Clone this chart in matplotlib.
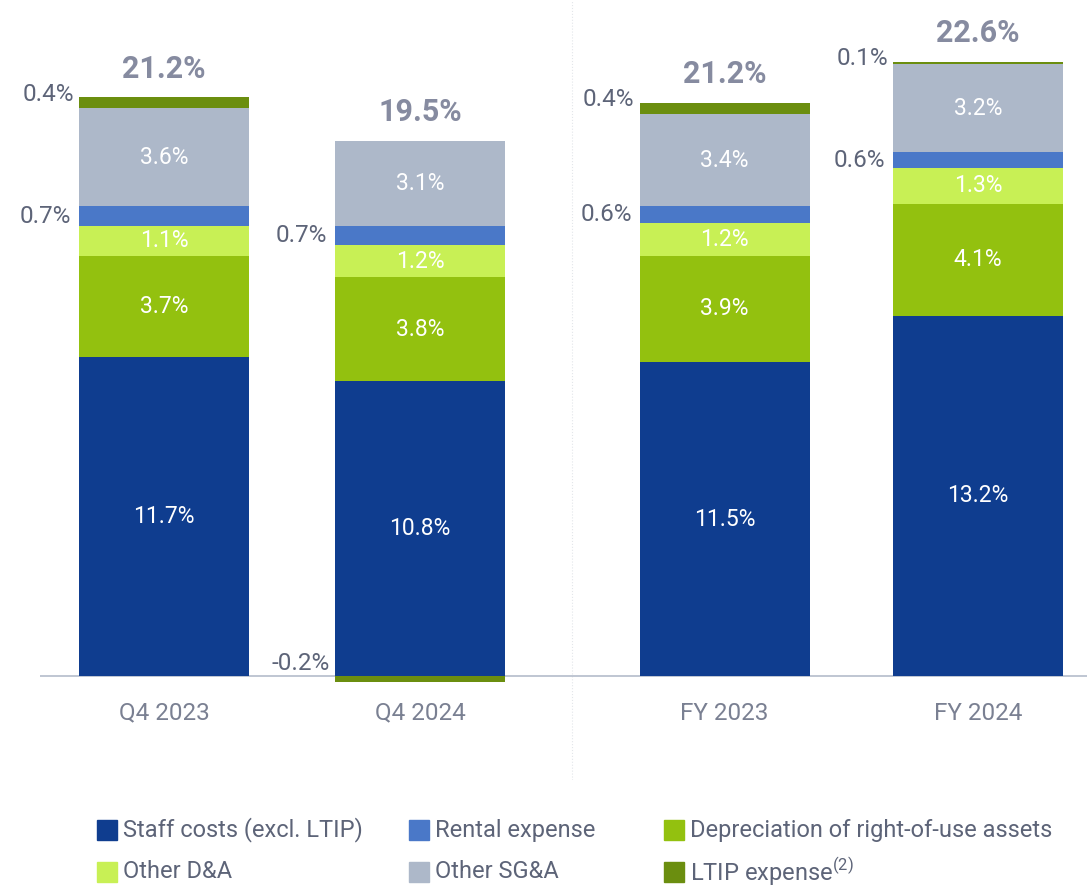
import numpy as np
import matplotlib
matplotlib.use('Agg')
import matplotlib.pyplot as plt
from matplotlib.patches import Rectangle

plt.rcParams['font.family'] = ['Roboto', 'DejaVu Sans']
plt.rcParams['mathtext.fontset'] = 'custom'
plt.rcParams['mathtext.rm'] = 'Roboto'

# data
categories = ['Q4 2023', 'Q4 2024', 'FY 2023', 'FY 2024']
totals = ['21.2%', '19.5%', '21.2%', '22.6%']
staff = [11.7, 10.8, 11.5, 13.2]
dep_rou = [3.7, 3.8, 3.9, 4.1]
other_da = [1.1, 1.2, 1.2, 1.3]
rental = [0.7, 0.7, 0.6, 0.6]
other_sga = [3.6, 3.1, 3.4, 3.2]
ltip = [0.4, -0.2, 0.4, 0.1]

series = [
    ('Staff costs (excl. LTIP)', staff, '#0f3d8f'),
    ('Depreciation of right-of-use assets', dep_rou, '#93c10f'),
    ('Other D&A', other_da, '#c8f055'),
    ('Rental expense', rental, '#4a78c8'),
    ('Other SG&A', other_sga, '#adb8c9'),
    ('LTIP expense$^{(2)}$', ltip, '#6b8e0f'),
]
colors = {name: c for name, _, c in series}

W, H = 1087, 889
fig = plt.figure(figsize=(W / 100, H / 100), dpi=100)
ax = fig.add_axes([40 / W, 1 - 780 / H, 1047 / W, 780 / H])

x = np.array([0, 1, 2.19, 3.18])
width = 0.665
side_col = '#5d6478'

pos = np.zeros(4)
neg = np.zeros(4)
tops = {}
for name, vals, col in series:
    vals = np.array(vals)
    bottom = np.where(vals >= 0, pos, neg)
    ax.bar(x, vals, width, bottom=bottom, color=col, edgecolor='none', zorder=3)
    tops[name] = (bottom, vals)
    pos = pos + np.where(vals >= 0, vals, 0)
    neg = neg + np.where(vals < 0, vals, 0)

# labels inside
for name in ['Staff costs (excl. LTIP)', 'Depreciation of right-of-use assets',
             'Other D&A', 'Other SG&A']:
    b, v = tops[name]
    for i in range(4):
        ax.text(x[i], b[i] + v[i] / 2, f'{v[i]:.1f}%', ha='center', va='center',
                color='white', fontsize=16.5, zorder=4)

# side labels (rental, ltip)
b, v = tops['Rental expense']
for i in range(4):
    ax.text(x[i] - width / 2 - 0.03, b[i] + v[i] / 2, f'{v[i]:.1f}%', ha='right',
            va='center', color=side_col, fontsize=17.5)
b, v = tops['LTIP expense$^{(2)}$']
for i in range(4):
    if v[i] < 0:
        ax.text(x[i] - width / 2 - 0.02, 0.05, f'{v[i]:.1f}%', ha='right',
                va='bottom', color=side_col, fontsize=17.5)
    else:
        ax.text(x[i] - width / 2 - 0.02, b[i] + v[i] + 0.1, f'{v[i]:.1f}%',
                ha='right', va='center', color=side_col, fontsize=17.5)

# totals
for i in range(4):
    ax.text(x[i], pos[i] + 1.05, totals[i], ha='center', va='center',
            color='#868ba0', fontsize=22, fontweight='bold')

# category labels
for i in range(4):
    ax.text(x[i], -1.35, categories[i], ha='center', va='center',
            color='#7a8092', fontsize=17.5)

ax.axhline(0, color='#b4bccb', lw=1.2, zorder=2)
ax.axvline(1.594, ymin=0, ymax=1, color='#e3e6ea', lw=0.8, ls=':', zorder=1)

ax.set_xlim(-0.484, 3.605)
ax.set_ylim(-3.8, 24.76)
ax.axis('off')

# legend
leg_rows = [
    [('Staff costs (excl. LTIP)', 97), ('Rental expense', 409),
     ('Depreciation of right-of-use assets', 664)],
    [('Other D&A', 97), ('Other SG&A', 409), ('LTIP expense$^{(2)}$', 664)],
]
for row, yc in zip(leg_rows, [830, 872]):
    for name, px in row:
        fig.patches.append(Rectangle((px / W, 1 - (yc + 10) / H), 20 / W, 20 / H,
                                     transform=fig.transFigure,
                                     color=colors[name], figure=fig))
        fig.text((px + 26) / W, 1 - yc / H, name, ha='left', va='center',
                 color=side_col, fontsize=17)

fig.savefig('out.png', dpi=100)
